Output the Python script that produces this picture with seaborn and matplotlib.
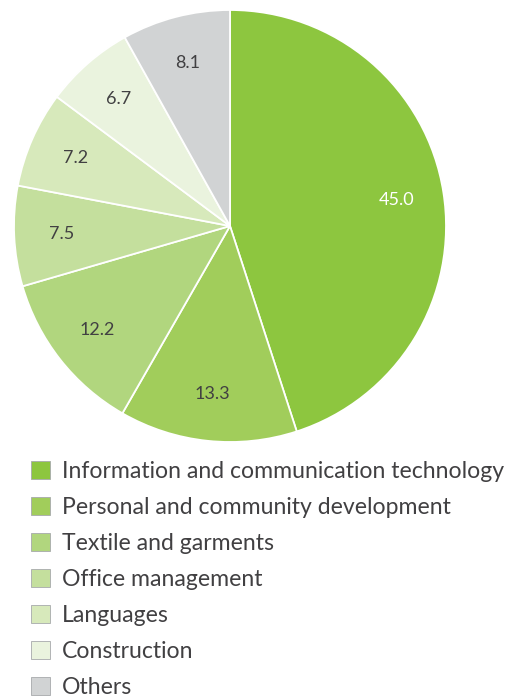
import matplotlib
matplotlib.use("Agg")
import matplotlib.pyplot as plt
import matplotlib.patches as mpatches
import seaborn as sns

categories = ["Information and communication technology",
              "Personal and community development",
              "Textile and garments",
              "Office management",
              "Languages",
              "Construction",
              "Others"]
values = [45.0, 13.3, 12.2, 7.5, 7.2, 6.7, 8.1]
value_labels = ["45.0", "13.3", "12.2", "7.5", "7.2", "6.7", "8.1"]
colors = ["#8dc63f", "#a1cd5b", "#b1d67e", "#c4df9d", "#d7e9bb", "#eaf3de", "#d1d3d4"]

sns.set_theme(style="white")
plt.rcParams['font.family'] = ['Lato', 'DejaVu Sans']

fig = plt.figure(figsize=(5.15, 6.98), dpi=100)
ax = fig.add_axes([14/515, 1 - 442/698, 432/515, 432/698])
palette = sns.color_palette(colors)
wedges, texts = ax.pie(values, labels=value_labels, colors=palette, startangle=90,
                       counterclock=False, labeldistance=0.78,
                       wedgeprops=dict(edgecolor="white", linewidth=1.3),
                       textprops=dict(fontsize=13, color="#414042"))
texts[0].set_color("white")
for t in texts:
    t.set_ha("center"); t.set_va("center")
ax.set_xlim(-1.0, 1.0); ax.set_ylim(-1.0, 1.0)
ax.set_aspect("equal")

handles = [mpatches.Patch(facecolor=c, edgecolor="#a7a9ac", linewidth=0.6) for c in colors]
leg = fig.legend(handles, categories, loc="upper left", bbox_to_anchor=(22/515, 1 - 452/698),
                 frameon=False, fontsize=16.6, handlelength=0.8, handleheight=0.8,
                 handletextpad=0.55, labelspacing=0.65, borderaxespad=0)
for t in leg.get_texts():
    t.set_color("#414042")

fig.savefig("out.png", dpi=100)
